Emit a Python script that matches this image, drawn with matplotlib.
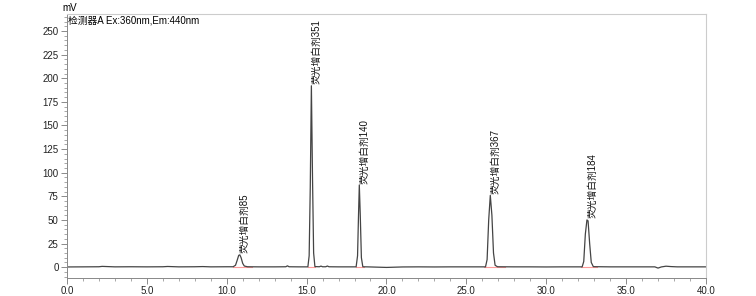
import matplotlib
matplotlib.use("Agg")
import matplotlib.pyplot as plt
from matplotlib.ticker import MultipleLocator, FormatStrFormatter

plt.rcParams['font.family'] = ['Liberation Sans', 'Noto Sans CJK SC', 'DejaVu Sans']

# chromatogram trace (time in min, signal in mV)
time = [0.0, 1.0, 2.0, 2.2, 3.0, 4.0, 5.0, 6.0, 6.3, 7.0, 8.0, 8.5, 9.0, 10.0,
        10.4, 10.55, 10.65, 10.75, 10.82, 10.9, 11.0, 11.1, 11.3, 12.0, 13.0,
        13.7, 13.8, 13.9, 14.5, 15.08, 15.16, 15.23, 15.3, 15.37, 15.44, 15.52,
        15.8, 15.9, 16.0, 16.2, 16.3, 16.4, 17.0, 18.1, 18.19, 18.25, 18.3,
        18.36, 18.43, 18.52, 19.0, 20.0, 21.0, 22.0, 23.0, 24.0, 25.0, 26.2,
        26.3, 26.4, 26.5, 26.6, 26.7, 26.8, 26.95, 28.0, 29.0, 30.0, 31.0,
        32.25, 32.35, 32.45, 32.55, 32.62, 32.72, 32.82, 32.95, 34.0, 35.0,
        36.0, 36.8, 37.0, 37.2, 37.5, 37.8, 38.2, 39.0, 40.0]
signal = [0.2, 0.3, 0.4, 0.8, 0.3, 0.4, 0.3, 0.4, 0.7, 0.3, 0.4, 0.6, 0.3, 0.4,
          0.4, 2.0, 7.0, 12.5, 13.0, 10.0, 4.0, 1.2, 0.4, 0.3, 0.3,
          0.4, 1.4, 0.4, 0.3, 0.3, 12.0, 85.0, 192.0, 95.0, 15.0, 0.6,
          0.4, 1.1, 0.4, 0.4, 1.2, 0.4, 0.3, 0.3, 12.0, 55.0, 87.0,
          55.0, 10.0, 0.4, 0.2, -0.3, 0.2, 0.3, 0.2, 0.3, 0.3, 0.3,
          8.0, 50.0, 76.0, 55.0, 15.0, 2.0, 0.4, 0.3, 0.3, 0.2, 0.3,
          0.3, 6.0, 35.0, 50.0, 49.0, 25.0, 5.0, 0.5, 0.3, 0.3,
          0.3, 0.3, -1.0, 0.2, 1.0, 0.6, 0.3, 0.3, 0.3]

# peak labels
peak_time = [10.8, 15.3, 18.3, 26.5, 32.6]
peak_height = [13.0, 192.0, 87.0, 76.0, 50.0]
peak_name = ["荧光增白剂85", "荧光增白剂351", "荧光增白剂140", "荧光增白剂367", "荧光增白剂184"]

# integration baselines (start, end)
base_start = [10.4, 15.1, 18.1, 26.1, 32.2]
base_end = [11.6, 15.5, 18.6, 27.4, 33.2]

fig = plt.figure(figsize=(7.56, 2.96), dpi=100)
ax = fig.add_axes([0.0886, 0.0608, 0.8452, 0.8919])

for s, e in zip(base_start, base_end):
    ax.plot([s, e], [0, 0], color="#ff9a9a", linewidth=0.8, zorder=1)

ax.plot(time, signal, color="#444444", linewidth=0.9, zorder=2)

for t, h, name in zip(peak_time, peak_height, peak_name):
    ax.text(t + 0.3, h + 1.5, name, rotation=90, ha="center", va="bottom",
            fontsize=7, color="#111111")

ax.set_xlim(0, 40)
ax.set_ylim(-11.5, 268)

ax.xaxis.set_major_locator(MultipleLocator(5))
ax.xaxis.set_minor_locator(MultipleLocator(1))
ax.xaxis.set_major_formatter(FormatStrFormatter("%.1f"))
ax.yaxis.set_minor_locator(MultipleLocator(5))
ax.set_yticks([0, 25, 50, 75, 100, 125, 150, 175, 200, 225, 250])

ax.tick_params(axis="both", which="major", direction="out", length=4, width=0.6,
               color="#777777", labelsize=7, labelcolor="#222222", pad=2)
ax.tick_params(axis="both", which="minor", direction="out", length=2, width=0.6,
               color="#999999")

for side in ["left", "bottom"]:
    ax.spines[side].set_color("#888888")
    ax.spines[side].set_linewidth(0.7)
for side in ["top", "right"]:
    ax.spines[side].set_color("#cccccc")
    ax.spines[side].set_linewidth(0.8)

ax.text(-0.007, 1.005, "mV", transform=ax.transAxes, ha="left", va="bottom", fontsize=7)
ax.text(0.002, 0.995, "检测器A Ex:360nm,Em:440nm", transform=ax.transAxes,
        ha="left", va="top", fontsize=7)

fig.savefig("out.png", dpi=100)
